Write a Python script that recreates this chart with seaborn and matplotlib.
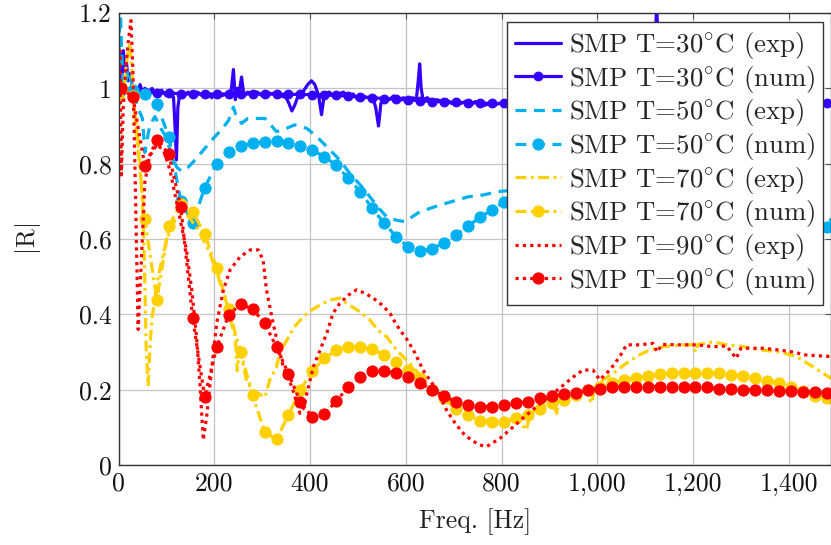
import numpy as np
import pandas as pd
import matplotlib
matplotlib.use("Agg")
import matplotlib.pyplot as plt
from matplotlib.ticker import FuncFormatter
import seaborn as sns

# ---------------- data ----------------
num_f = [5, 30, 55, 80, 105, 130, 155, 180, 205, 230, 255, 280, 305, 330, 355, 380, 405, 430, 455, 480,
         505, 530, 555, 580, 605, 630, 655, 680, 705, 730, 755, 780, 805, 830, 855, 880, 905, 930, 955, 980,
         1005, 1030, 1055, 1080, 1105, 1130, 1155, 1180, 1205, 1230, 1255, 1280, 1305, 1330, 1355, 1380,
         1405, 1430, 1455, 1480]

num30 = [1.0, 0.995, 0.99, 0.988, 0.987, 0.986, 0.985, 0.985, 0.985, 0.985, 0.985, 0.985, 0.985, 0.985,
         0.984, 0.984, 0.983, 0.982, 0.981, 0.979, 0.977, 0.975, 0.973, 0.971, 0.969, 0.967, 0.965, 0.964,
         0.963, 0.962, 0.961, 0.96, 0.96, 0.96, 0.96, 0.96, 0.96, 0.96, 0.96, 0.96, 0.96, 0.96, 0.96, 0.96,
         0.96, 0.96, 0.96, 0.96, 0.96, 0.96, 0.96, 0.96, 0.96, 0.96, 0.96, 0.96, 0.96, 0.96, 0.96, 0.96]

num50 = [1.0, 0.995, 0.984, 0.958, 0.872, 0.70, 0.643, 0.736, 0.80, 0.832, 0.848, 0.854, 0.858, 0.861,
         0.854, 0.848, 0.836, 0.818, 0.796, 0.761, 0.726, 0.681, 0.642, 0.606, 0.579, 0.569, 0.574, 0.59,
         0.611, 0.634, 0.658, 0.677, 0.699, 0.712, 0.722, 0.729, 0.733, 0.735, 0.734, 0.731, 0.727, 0.722,
         0.716, 0.71, 0.703, 0.696, 0.69, 0.684, 0.678, 0.672, 0.667, 0.662, 0.657, 0.653, 0.649, 0.645,
         0.641, 0.638, 0.635, 0.633]

num70 = [1.0, 0.98, 0.652, 0.438, 0.634, 0.693, 0.672, 0.613, 0.522, 0.413, 0.299, 0.186, 0.088, 0.068,
         0.133, 0.199, 0.25, 0.283, 0.305, 0.314, 0.314, 0.307, 0.292, 0.273, 0.252, 0.23, 0.2, 0.177,
         0.148, 0.133, 0.118, 0.115, 0.115, 0.124, 0.133, 0.15, 0.164, 0.173, 0.186, 0.199, 0.208, 0.217,
         0.226, 0.232, 0.236, 0.241, 0.243, 0.245, 0.245, 0.245, 0.243, 0.239, 0.236, 0.23, 0.224, 0.217,
         0.206, 0.197, 0.184, 0.178]

num90 = [1.0, 0.977, 0.794, 0.863, 0.826, 0.685, 0.39, 0.18, 0.313, 0.398, 0.427, 0.414, 0.377, 0.313,
         0.242, 0.167, 0.127, 0.135, 0.17, 0.207, 0.234, 0.25, 0.25, 0.244, 0.234, 0.218, 0.2, 0.183,
         0.168, 0.159, 0.155, 0.155, 0.159, 0.164, 0.168, 0.177, 0.184, 0.188, 0.192, 0.199, 0.203, 0.206,
         0.208, 0.208, 0.208, 0.208, 0.208, 0.208, 0.206, 0.206, 0.203, 0.203, 0.2, 0.199, 0.198, 0.197,
         0.196, 0.195, 0.194, 0.192]

exp30_f = [0, 2, 4, 6, 8, 10, 13, 16, 20, 25, 30, 35, 40, 45, 50, 55, 60, 70, 80, 90, 100, 110, 115, 118,
           121, 124, 128, 135, 145, 155, 165, 175, 185, 195, 205, 215, 225, 235, 240, 244, 248, 252, 257,
           262, 270, 280, 290, 300, 310, 320, 330, 340, 350, 356, 362, 368, 375, 385, 395, 403, 410, 418,
           424, 430, 440, 450, 460, 470, 480, 490, 500, 510, 520, 530, 537, 543, 548, 555, 565, 575, 585,
           595, 605, 615, 622, 626, 629, 632, 636, 645, 655, 665, 675, 685, 695, 705, 715, 725, 735, 745,
           755, 765, 775, 785, 795, 805, 850, 900, 950, 1000, 1050, 1100, 1115, 1120, 1124, 1128, 1132,
           1200, 1300, 1400, 1488]
exp30 = [1.0, 1.06, 0.97, 1.09, 1.03, 1.1, 1.05, 1.08, 1.02, 1.04, 0.99, 1.0, 0.98, 1.01, 0.99, 1.0,
         0.985, 1.0, 0.98, 0.995, 0.98, 0.99, 0.975, 0.9, 0.81, 0.95, 0.985, 0.975, 0.99, 0.98, 0.99, 0.98,
         0.985, 0.975, 0.99, 0.98, 0.985, 0.99, 1.05, 0.97, 1.0, 0.99, 1.03, 0.98, 0.99, 0.985, 0.99, 0.98,
         0.99, 0.985, 0.99, 0.98, 0.975, 0.96, 0.94, 0.955, 0.98, 0.99, 1.01, 1.02, 1.01, 0.98, 0.93, 0.985,
         0.99, 0.98, 0.985, 0.99, 0.975, 0.985, 0.97, 0.98, 0.975, 0.98, 0.95, 0.90, 0.96, 0.975, 0.97,
         0.98, 0.97, 0.975, 0.97, 0.975, 0.97, 1.02, 1.065, 1.0, 0.97, 0.975, 0.965, 0.97, 0.965, 0.97,
         0.96, 0.965, 0.96, 0.965, 0.955, 0.965, 0.96, 0.955, 0.96, 0.955, 0.96, 0.958, 0.96, 0.955, 0.96,
         0.958, 0.96, 0.955, 0.96, 1.1, 1.22, 1.08, 0.96, 0.958, 0.96, 0.955, 0.96]

exp50_f = [0, 3, 6, 10, 20, 30, 40, 50, 55, 65, 76, 90, 100, 111, 122, 132, 145, 160, 180, 200, 215, 230,
           240, 245, 257, 270, 281, 306, 330, 351, 368, 393, 414, 438, 462, 483, 508, 525, 545, 560, 580,
           598, 629, 671, 706, 730, 762, 793, 830, 880, 930, 1000, 1100, 1200, 1300, 1400, 1488]
exp50 = [1.0, 1.25, 1.12, 0.98, 1.05, 1.0, 0.95, 0.92, 0.83, 0.90, 0.925, 0.89, 0.87, 0.82, 0.79, 0.78,
         0.79, 0.81, 0.84, 0.87, 0.89, 0.915, 0.95, 0.93, 0.907, 0.92, 0.92, 0.92, 0.885, 0.894, 0.903,
         0.894, 0.872, 0.841, 0.81, 0.774, 0.739, 0.712, 0.68, 0.659, 0.65, 0.646, 0.672, 0.69, 0.703,
         0.712, 0.717, 0.726, 0.73, 0.74, 0.745, 0.745, 0.73, 0.71, 0.69, 0.67, 0.65]

exp70_f = [0, 5, 10, 15, 20, 24, 28, 33, 38, 45, 50, 54, 58, 62, 66, 70, 83, 100, 118, 130, 146, 167, 191,
           208, 222, 236, 244, 248, 252, 260, 268, 280, 292, 306, 316, 330, 337, 351, 365, 386, 403, 421,
           442, 462, 476, 504, 525, 542, 560, 581, 601, 616, 636, 660, 685, 720, 755, 790, 824, 840, 852,
           860, 880, 900, 912, 915, 921, 942, 963, 980, 985, 988, 995, 1005, 1033, 1055, 1082, 1100, 1110,
           1137, 1172, 1200, 1205, 1210, 1242, 1270, 1300, 1346, 1381, 1416, 1450, 1488]
exp70 = [0.95, 1.0, 0.97, 1.05, 1.1, 1.12, 1.05, 0.95, 0.9, 0.8, 0.7, 0.55, 0.3, 0.21, 0.32, 0.39, 0.5,
         0.597, 0.65, 0.66, 0.66, 0.624, 0.562, 0.5, 0.447, 0.376, 0.34, 0.25, 0.3, 0.27, 0.22, 0.2, 0.19,
         0.18, 0.226, 0.26, 0.3, 0.33, 0.363, 0.394, 0.411, 0.425, 0.438, 0.443, 0.43, 0.407, 0.385, 0.358,
         0.34, 0.305, 0.279, 0.26, 0.226, 0.2, 0.173, 0.137, 0.12, 0.12, 0.12, 0.11, 0.093, 0.14, 0.155,
         0.164, 0.15, 0.137, 0.177, 0.181, 0.199, 0.2, 0.17, 0.164, 0.21, 0.221, 0.243, 0.265, 0.288, 0.3,
         0.305, 0.314, 0.319, 0.319, 0.3, 0.32, 0.327, 0.319, 0.315, 0.305, 0.3, 0.288, 0.261, 0.23]

exp90_f = [0, 3, 6, 10, 15, 20, 26, 30, 35, 41, 48, 55, 65, 80, 94, 108, 121, 142, 153, 163, 170, 177, 184,
           195, 205, 219, 233, 254, 275, 292, 302, 309, 316, 323, 334, 344, 362, 379, 386, 396, 407, 421,
           435, 448, 462, 480, 497, 515, 532, 550, 567, 577, 588, 601, 616, 626, 636, 650, 665, 685, 703,
           720, 737, 755, 769, 797, 817, 845, 873, 908, 925, 950, 970, 991, 1005, 1026, 1047, 1061, 1088,
           1116, 1125, 1135, 1172, 1207, 1242, 1270, 1290, 1300, 1311, 1346, 1381, 1408, 1436, 1488]
exp90 = [1.0, 1.1, 0.77, 0.95, 1.05, 1.12, 1.18, 1.05, 0.75, 0.36, 0.55, 0.75, 0.82, 0.85, 0.836, 0.78,
         0.70, 0.57, 0.465, 0.34, 0.217, 0.066, 0.128, 0.26, 0.376, 0.465, 0.518, 0.553, 0.571, 0.571,
         0.544, 0.465, 0.42, 0.376, 0.314, 0.261, 0.208, 0.137, 0.15, 0.204, 0.261, 0.305, 0.35, 0.403,
         0.429, 0.451, 0.465, 0.456, 0.443, 0.425, 0.403, 0.38, 0.358, 0.336, 0.305, 0.279, 0.252, 0.226,
         0.199, 0.146, 0.111, 0.084, 0.066, 0.053, 0.049, 0.071, 0.093, 0.125, 0.155, 0.19, 0.208, 0.234,
         0.252, 0.252, 0.226, 0.252, 0.288, 0.319, 0.319, 0.323, 0.3, 0.32, 0.319, 0.319, 0.314, 0.316,
         0.283, 0.31, 0.31, 0.31, 0.305, 0.3, 0.292, 0.288]

labels = [r"SMP T=$30^{\circ}$C (exp)", r"SMP T=$30^{\circ}$C (num)",
          r"SMP T=$50^{\circ}$C (exp)", r"SMP T=$50^{\circ}$C (num)",
          r"SMP T=$70^{\circ}$C (exp)", r"SMP T=$70^{\circ}$C (num)",
          r"SMP T=$90^{\circ}$C (exp)", r"SMP T=$90^{\circ}$C (num)"]
x_ticks = [0, 200, 400, 600, 800, 1000, 1200, 1400]
y_ticks = [0, 0.2, 0.4, 0.6, 0.8, 1.0, 1.2]

# ---------------- style ----------------
sns.set_theme(style="white")
plt.rcParams["font.family"] = ["cmr10", "DejaVu Serif"]
plt.rcParams["mathtext.fontset"] = "cm"
plt.rcParams["axes.formatter.use_mathtext"] = True
plt.rcParams["axes.unicode_minus"] = False

FS = 18.5
FS_LEG = 19.3
c_30 = "#3300FF"
c_50 = "#00B0F0"
c_70 = "#FFD000"
c_90 = "#FF0000"
lw = 2.3
ls_dash = (0, (3.4, 2.4))
ls_dashdot = (0, (3.4, 1.4, 0.9, 1.4))
ls_dot = (0, (1.0, 1.3))

series = [
    (exp30_f, exp30, c_30, "-", None, 0),
    (num_f, num30, c_30, "-", "o", 6.3),
    (exp50_f, exp50, c_50, ls_dash, None, 0),
    (num_f, num50, c_50, ls_dash, "o", 8.0),
    (exp70_f, exp70, c_70, ls_dashdot, None, 0),
    (num_f, num70, c_70, ls_dashdot, "o", 8.0),
    (exp90_f, exp90, c_90, ls_dot, None, 0),
    (num_f, num90, c_90, ls_dot, "o", 8.0),
]

fig = plt.figure(figsize=(8.31, 5.45), dpi=100)
ax = fig.add_axes([118.5 / 831, 80 / 545, 712.5 / 831, 452 / 545])

for (fx, fy, col, ls, mk, ms), lab in zip(series, labels):
    df = pd.DataFrame({"f": fx, "r": fy})
    kw = dict(color=col, linewidth=lw, linestyle=ls, label=lab, sort=False,
              estimator=None, ax=ax, dash_capstyle="butt")
    if mk:
        kw.update(marker=mk, markersize=ms, markeredgewidth=0.8, markeredgecolor=col,
                  markerfacecolor=col)
    sns.lineplot(data=df, x="f", y="r", **kw)

ax.set_xlim(0, 1488)
ax.set_ylim(0, 1.2)
ax.set_xticks(x_ticks)
ax.set_yticks(y_ticks)
ax.xaxis.set_major_formatter(FuncFormatter(lambda v, p: f"{v:,.0f}"))
ax.yaxis.set_major_formatter(FuncFormatter(lambda v, p: f"{v:g}"))
ax.grid(True, color="#c4c4c4", linewidth=0.9)
ax.set_axisbelow(True)
ax.tick_params(direction="in", length=4, width=0.8, colors="#555555", labelcolor="#111111",
               labelsize=FS, top=True, right=True, pad=5)
for s in ax.spines.values():
    s.set_color("#333333")
    s.set_linewidth(1.0)

ax.set_xlabel("Freq. [Hz]", fontsize=FS, color="#222222", labelpad=9)
ax.set_ylabel(r"$|\mathrm{R}|$", fontsize=FS, color="#222222", labelpad=26)

leg = ax.legend(loc="upper right", bbox_to_anchor=(823 / 831, 1 - 22 / 545),
                bbox_transform=fig.transFigure, borderaxespad=0, fontsize=FS_LEG,
                frameon=True, fancybox=False, framealpha=1, edgecolor="#333333",
                handlelength=1.7, handletextpad=0.3, labelspacing=0.1, borderpad=0.3)
leg.get_frame().set_linewidth(1.0)

fig.savefig("out.png", dpi=100)
